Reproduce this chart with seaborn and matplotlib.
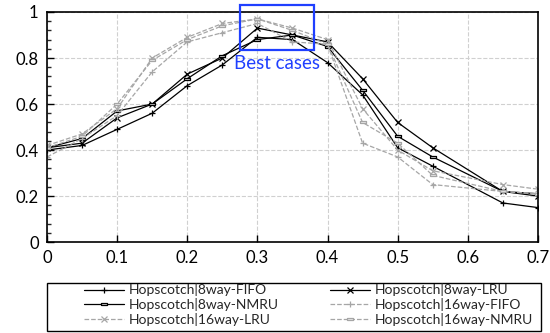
import numpy as np
import matplotlib.pyplot as plt
import matplotlib.ticker as mticker
import seaborn as sns
import pandas as pd

x = [0, 0.05, 0.1, 0.15, 0.2, 0.25, 0.3, 0.35, 0.4, 0.45, 0.5, 0.55, 0.65, 0.7]

fifo8 = [0.40, 0.42, 0.49, 0.56, 0.68, 0.77, 0.89, 0.88, 0.78, 0.64, 0.41, 0.33, 0.17, 0.15]
lru8 = [0.41, 0.43, 0.54, 0.60, 0.73, 0.80, 0.93, 0.90, 0.87, 0.71, 0.52, 0.41, 0.22, 0.20]
nmru8 = [0.41, 0.45, 0.57, 0.60, 0.71, 0.81, 0.88, 0.90, 0.85, 0.66, 0.46, 0.37, 0.22, 0.21]
fifo16 = [0.37, 0.45, 0.55, 0.74, 0.87, 0.91, 0.95, 0.87, 0.86, 0.43, 0.37, 0.25, 0.22, 0.21]
lru16 = [0.42, 0.47, 0.58, 0.80, 0.89, 0.95, 0.97, 0.93, 0.88, 0.58, 0.40, 0.31, 0.25, 0.23]
nmru16 = [0.41, 0.46, 0.60, 0.79, 0.88, 0.94, 0.97, 0.92, 0.86, 0.52, 0.43, 0.29, 0.22, 0.21]

names = ["Hopscotch|8way-FIFO", "Hopscotch|8way-LRU", "Hopscotch|8way-NMRU",
         "Hopscotch|16way-FIFO", "Hopscotch|16way-LRU", "Hopscotch|16way-NMRU"]
series = [fifo8, lru8, nmru8, fifo16, lru16, nmru16]

flat = [(-1, -0.35), (1, -0.35), (1, 0.35), (-1, 0.35), (-1, -0.35)]
styles = [
    dict(color="black", marker="+", ls="-", ms=9, mfc="none"),
    dict(color="black", marker="x", ls="-", ms=7.5, mfc="none"),
    dict(color="black", marker=flat, ls="-", ms=9, mfc="#dddddd"),
    dict(color="#a6a6a6", marker="+", ls="--", ms=9, mfc="none"),
    dict(color="#a6a6a6", marker="x", ls="--", ms=7.5, mfc="none"),
    dict(color="#a6a6a6", marker=flat, ls="--", ms=9, mfc="#eeeeee"),
]

sns.set_style("white")
plt.rcParams["font.family"] = ["Lato", "DejaVu Sans"]

fig = plt.figure(figsize=(5.5, 3.33), dpi=100)
ax = fig.add_axes([0.0855, 0.273, 0.8925, 0.691])

for name, vals, st in zip(names, series, styles):
    data = pd.DataFrame({"x": x, "y": vals})
    sns.lineplot(data=data, x="x", y="y", ax=ax, label=name,
                 color=st["color"], linestyle=st["ls"], linewidth=0.9,
                 marker=st["marker"], markersize=st["ms"],
                 markerfacecolor=st["mfc"], markeredgecolor=st["color"],
                 markeredgewidth=0.9)

ax.set_xlim(0, 0.7)
ax.set_ylim(0, 1)
ax.xaxis.set_major_locator(mticker.MultipleLocator(0.1))
ax.yaxis.set_major_locator(mticker.MultipleLocator(0.2))
ax.yaxis.set_minor_locator(mticker.MultipleLocator(0.04))
ax.xaxis.set_major_formatter(mticker.FuncFormatter(lambda v, p: f"{v:g}"))
ax.yaxis.set_major_formatter(mticker.FuncFormatter(lambda v, p: f"{v:g}"))
ax.tick_params(axis="both", which="major", direction="in", length=5, width=1,
               labelsize=12, colors="black", pad=6)
ax.tick_params(axis="y", which="minor", direction="in", length=3, width=1, left=True)
ax.tick_params(left=True, bottom=True)
ax.grid(True, which="major", color="#d0d0d0", linestyle="--", linewidth=0.8)
for sp in ax.spines.values():
    sp.set_color("black")
    sp.set_linewidth(1.2)
ax.set_xlabel("")
ax.set_ylabel("")

# highlight box
rect = plt.Rectangle((0.275, 0.835), 0.106, 0.195, fill=False, edgecolor="#1f3fff",
                     linewidth=1.6, clip_on=False, zorder=5)
ax.add_patch(rect)
ax.text(0.328, 0.775, "Best cases", color="#1f3fff", fontsize=13.5,
        ha="center", va="center", zorder=6)

# legend: two frameless columns inside a drawn box
handles, labels = ax.get_legend_handles_labels()
ax.get_legend().remove()
for h in handles:
    h.set_markersize(5)
leg_kw = dict(fontsize=10, frameon=False, handlelength=2.9, handletextpad=0.3,
              borderpad=0, labelspacing=0.12, loc="upper left",
              bbox_transform=fig.transFigure)
leg1 = fig.legend([handles[0], handles[2], handles[4]],
                  [labels[0], labels[2], labels[4]],
                  bbox_to_anchor=(77 / 550, 1 - 276.5 / 333), **leg_kw)
leg2 = fig.legend([handles[1], handles[3], handles[5]],
                  [labels[1], labels[3], labels[5]],
                  bbox_to_anchor=(323 / 550, 1 - 276.5 / 333), **leg_kw)
box = plt.Rectangle((47 / 550, 1 - 331 / 333), 494 / 550, 48 / 333,
                    transform=fig.transFigure, fill=False, edgecolor="black",
                    linewidth=1.0)
fig.patches.append(box)

plt.savefig("out.png", dpi=100)
